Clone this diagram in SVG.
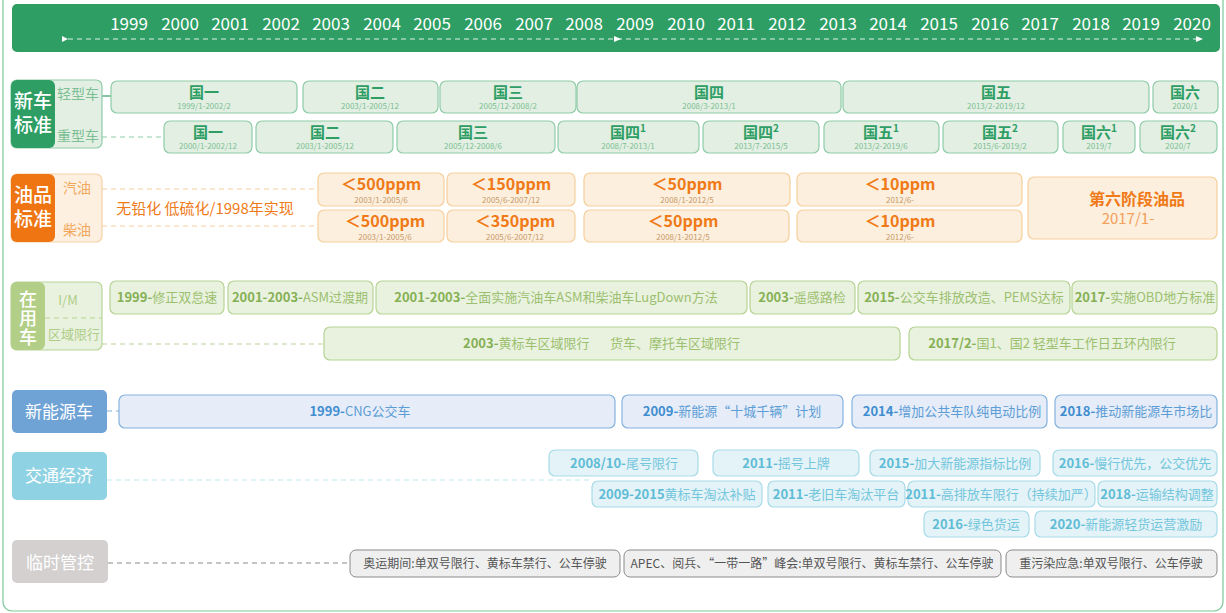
<svg xmlns="http://www.w3.org/2000/svg" width="1226" height="613" viewBox="0 0 1226 613">
<defs>
<style>
text{font-family:"Noto Sans CJK SC","Noto Sans",sans-serif}
.yr{font-size:17px;fill:#fff;text-anchor:middle}
.cat{font-size:19px;fill:#fff;text-anchor:middle;font-weight:500}
.gb{fill:#e2efe2;stroke:#8fcca8;stroke-width:1.2}
.gt{font-size:15px;font-weight:700;fill:#2e9e64;text-anchor:middle}
.gs{font-size:8px;fill:#7cbf94;text-anchor:middle}
.gl{font-size:14px;fill:#7cbf94;text-anchor:middle}
.ob{fill:#fdefdd;stroke:#f6cf9c;stroke-width:1.2}
.ot{font-size:16px;font-weight:700;fill:#ef7a17;text-anchor:middle}
.os{font-size:8px;fill:#c69a6a;text-anchor:middle}
.ol{font-size:14px;fill:#f2a85c;text-anchor:middle}
.ub{fill:#e9f2de;stroke:#b6d494;stroke-width:1.2}
.ut{font-size:13px;fill:#9cc070;text-anchor:middle}
.ut tspan.b,.ut2 tspan.b{font-weight:700;fill:#86b055}
.ut2{font-size:13px;fill:#9cc070}
.nb{fill:#e6edf8;stroke:#84b2df;stroke-width:1.2}
.nt{font-size:13px;fill:#5d9dd6;text-anchor:middle}
.nt tspan.b{font-weight:700;fill:#3f8dd0}
.tb{fill:#e3f3f7;stroke:#a7dbe8;stroke-width:1.2}
.tt{font-size:13px;fill:#74c6dd;text-anchor:middle}
.tt tspan.b{font-weight:700;fill:#5fbcd6}
.lb{fill:#efefef;stroke:#8a8a8a;stroke-width:1}
.lt{font-size:12px;fill:#555;text-anchor:middle}
.dash{fill:none;stroke-width:1.2;stroke-dasharray:5 4}
</style>
</defs>
<rect x="3" y="-10" width="1220" height="621" rx="9" fill="none" stroke="#7cc89b" stroke-width="1.2"/>

<g id="timeline">
<rect x="12" y="4" width="1208" height="48" rx="5" fill="#2e9e64"/>
<text class="yr" x="129" y="30">1999</text>
<text class="yr" x="180" y="30">2000</text>
<text class="yr" x="230" y="30">2001</text>
<text class="yr" x="281" y="30">2002</text>
<text class="yr" x="331" y="30">2003</text>
<text class="yr" x="382" y="30">2004</text>
<text class="yr" x="432" y="30">2005</text>
<text class="yr" x="483" y="30">2006</text>
<text class="yr" x="534" y="30">2007</text>
<text class="yr" x="584" y="30">2008</text>
<text class="yr" x="635" y="30">2009</text>
<text class="yr" x="686" y="30">2010</text>
<text class="yr" x="736" y="30">2011</text>
<text class="yr" x="787" y="30">2012</text>
<text class="yr" x="838" y="30">2013</text>
<text class="yr" x="888" y="30">2014</text>
<text class="yr" x="939" y="30">2015</text>
<text class="yr" x="990" y="30">2016</text>
<text class="yr" x="1040" y="30">2017</text>
<text class="yr" x="1091" y="30">2018</text>
<text class="yr" x="1141" y="30">2019</text>
<text class="yr" x="1192" y="30">2020</text>
<line x1="68" y1="39" x2="1198" y2="39" stroke="#fff" stroke-opacity="0.85" stroke-width="1" stroke-dasharray="5 4"/>
<polygon points="62,36 68,39 62,42" fill="#fff"/>
<polygon points="614,36 621,39 614,42" fill="#fff"/>
<polygon points="1196,36 1203,39 1196,42" fill="#fff"/>
</g>

<g id="connectors">
<line x1="102" y1="96" x2="111" y2="96" stroke="#2e9e64" stroke-width="1.2"/>
<line class="dash" x1="102" y1="137" x2="164" y2="137" stroke="#8fcca8"/>
<line class="dash" x1="102" y1="189" x2="318" y2="189" stroke="#f6cf9c"/>
<line class="dash" x1="102" y1="226" x2="318" y2="226" stroke="#f6cf9c"/>
<line class="dash" x1="102" y1="344" x2="324" y2="344" stroke="#b6d494"/>
<line class="dash" x1="107" y1="411" x2="119" y2="411" stroke="#84b2df"/>
<line class="dash" x1="107" y1="480" x2="592" y2="480" stroke="#bde6ef" stroke-width="2"/>
<line class="dash" x1="108" y1="563" x2="350" y2="563" stroke="#8a8a8a" stroke-width="1"/>
</g>

<g id="cat-newcar">
<rect x="11" y="80" width="91" height="68" rx="6" fill="#e2efe2" stroke="#8fcca8" stroke-width="1.2"/>
<rect x="11" y="80" width="44" height="68" rx="6" fill="#2e9e64"/>
<text class="cat" x="33" y="108">新车<tspan x="33" dy="24">标准</tspan></text>
<text class="gl" x="78" y="99">轻型车</text>
<text class="gl" x="78" y="141">重型车</text>
</g>

<g id="light-1"><rect class="gb" x="111" y="81" width="186" height="32" rx="6"/><text class="gt" x="204" y="98">国一</text><text class="gs" x="204" y="109">1999/1-2002/2</text></g>
<g id="light-2"><rect class="gb" x="303" y="81" width="135" height="32" rx="6"/><text class="gt" x="370" y="98">国二</text><text class="gs" x="370" y="109">2003/1-2005/12</text></g>
<g id="light-3"><rect class="gb" x="440" y="81" width="136" height="32" rx="6"/><text class="gt" x="508" y="98">国三</text><text class="gs" x="508" y="109">2005/12-2008/2</text></g>
<g id="light-4"><rect class="gb" x="577" y="81" width="264" height="32" rx="6"/><text class="gt" x="709" y="98">国四</text><text class="gs" x="709" y="109">2008/3-2013/1</text></g>
<g id="light-5"><rect class="gb" x="843" y="81" width="306" height="32" rx="6"/><text class="gt" x="996" y="98">国五</text><text class="gs" x="996" y="109">2013/2-2019/12</text></g>
<g id="light-6"><rect class="gb" x="1153" y="81" width="65" height="32" rx="6"/><text class="gt" x="1185" y="98">国六</text><text class="gs" x="1185" y="109">2020/1</text></g>

<g id="heavy-1"><rect class="gb" x="164" y="121" width="88" height="32" rx="6"/><text class="gt" x="208" y="138">国一</text><text class="gs" x="208" y="149">2000/1-2002/12</text></g>
<g id="heavy-2"><rect class="gb" x="256" y="121" width="137" height="32" rx="6"/><text class="gt" x="325" y="138">国二</text><text class="gs" x="325" y="149">2003/1-2005/12</text></g>
<g id="heavy-3"><rect class="gb" x="397" y="121" width="158" height="32" rx="6"/><text class="gt" x="473" y="138">国三</text><text class="gs" x="473" y="149">2005/12-2008/6</text></g>
<g id="heavy-4a"><rect class="gb" x="558" y="121" width="141" height="32" rx="6"/><text class="gt" x="628" y="138">国四<tspan font-size="10" dy="-6">1</tspan></text><text class="gs" x="628" y="149">2008/7-2013/1</text></g>
<g id="heavy-4b"><rect class="gb" x="703" y="121" width="116" height="32" rx="6"/><text class="gt" x="761" y="138">国四<tspan font-size="10" dy="-6">2</tspan></text><text class="gs" x="761" y="149">2013/7-2015/5</text></g>
<g id="heavy-5a"><rect class="gb" x="824" y="121" width="115" height="32" rx="6"/><text class="gt" x="881" y="138">国五<tspan font-size="10" dy="-6">1</tspan></text><text class="gs" x="881" y="149">2013/2-2019/6</text></g>
<g id="heavy-5b"><rect class="gb" x="943" y="121" width="115" height="32" rx="6"/><text class="gt" x="1000" y="138">国五<tspan font-size="10" dy="-6">2</tspan></text><text class="gs" x="1000" y="149">2015/6-2019/2</text></g>
<g id="heavy-6a"><rect class="gb" x="1063" y="121" width="72" height="32" rx="6"/><text class="gt" x="1099" y="138">国六<tspan font-size="10" dy="-6">1</tspan></text><text class="gs" x="1099" y="149">2019/7</text></g>
<g id="heavy-6b"><rect class="gb" x="1140" y="121" width="77" height="32" rx="6"/><text class="gt" x="1178" y="138">国六<tspan font-size="10" dy="-6">2</tspan></text><text class="gs" x="1178" y="149">2020/7</text></g>

<g id="cat-oil">
<rect x="11" y="174" width="91" height="68" rx="6" fill="#fdf0e1" stroke="#f6d2a6" stroke-width="1.2"/>
<rect x="11" y="174" width="44" height="68" rx="6" fill="#ee7511"/>
<text class="cat" x="33" y="202">油品<tspan x="33" dy="24">标准</tspan></text>
<text class="ol" x="77" y="193">汽油</text>
<text class="ol" x="77" y="235">柴油</text>
</g>
<g id="oil-note"><text x="205" y="214" font-size="15" fill="#ef7a17" text-anchor="middle">无铅化 低硫化/1998年实现</text></g>

<g id="gas-1"><rect class="ob" x="318" y="173" width="126" height="33" rx="6"/><text class="ot" x="381" y="190">＜500ppm</text><text class="os" x="381" y="203">2003/1-2005/6</text></g>
<g id="gas-2"><rect class="ob" x="447" y="173" width="128" height="33" rx="6"/><text class="ot" x="511" y="190">＜150ppm</text><text class="os" x="511" y="203">2005/6-2007/12</text></g>
<g id="gas-3"><rect class="ob" x="584" y="173" width="206" height="33" rx="6"/><text class="ot" x="687" y="190">＜50ppm</text><text class="os" x="687" y="203">2008/1-2012/5</text></g>
<g id="gas-4"><rect class="ob" x="797" y="173" width="225" height="33" rx="6"/><text class="ot" x="900" y="190">＜10ppm</text><text class="os" x="900" y="203">2012/6-</text></g>
<g id="dsl-1"><rect class="ob" x="318" y="210" width="126" height="32" rx="6"/><text class="ot" x="385" y="227">＜500ppm</text><text class="os" x="385" y="240">2003/1-2005/6</text></g>
<g id="dsl-2"><rect class="ob" x="447" y="210" width="128" height="32" rx="6"/><text class="ot" x="515" y="227">＜350ppm</text><text class="os" x="515" y="240">2005/6-2007/12</text></g>
<g id="dsl-3"><rect class="ob" x="584" y="210" width="205" height="32" rx="6"/><text class="ot" x="683" y="227">＜50ppm</text><text class="os" x="683" y="240">2008/1-2012/5</text></g>
<g id="dsl-4"><rect class="ob" x="797" y="210" width="225" height="32" rx="6"/><text class="ot" x="900" y="227">＜10ppm</text><text class="os" x="900" y="240">2012/6-</text></g>
<g id="oil-6"><rect class="ob" x="1028" y="177" width="189" height="62" rx="6"/><text x="1137" y="205" font-size="16" font-weight="700" fill="#ef7a17" text-anchor="middle">第六阶段油品<tspan x="1128" dy="19" font-size="15" font-weight="400" fill="#f2a05a">2017/1-</tspan></text></g>

<g id="cat-inuse">
<rect x="11" y="282" width="91" height="68" rx="6" fill="#e9f2de" stroke="#b8d59a" stroke-width="1.2"/>
<rect x="11" y="282" width="34" height="68" rx="6" fill="#b3cf87"/>
<text x="28" y="290" font-size="18" font-weight="500" fill="#fff" writing-mode="vertical-rl" letter-spacing="1">在用车</text>
<line x1="45" y1="318" x2="102" y2="318" stroke="#b6d494" stroke-width="1.2" stroke-dasharray="5 4"/>
<text x="68" y="305" font-size="13" fill="#aecd88" text-anchor="middle">I/M</text>
<text x="74" y="339" font-size="13" fill="#aecd88" text-anchor="middle">区域限行</text>
</g>

<g id="im-1"><rect class="ub" x="110" y="281" width="114" height="33" rx="6"/><text class="ut" x="167" y="302"><tspan class="b">1999-</tspan>修正双怠速</text></g>
<g id="im-2"><rect class="ub" x="228" y="281" width="145" height="33" rx="6"/><text class="ut" x="300" y="302"><tspan class="b">2001-2003-</tspan>ASM过渡期</text></g>
<g id="im-3"><rect class="ub" x="376" y="281" width="371" height="33" rx="6"/><text class="ut" x="556" y="302"><tspan class="b">2001-2003-</tspan>全面实施汽油车ASM和柴油车LugDown方法</text></g>
<g id="im-4"><rect class="ub" x="750" y="281" width="105" height="33" rx="6"/><text class="ut" x="802" y="302"><tspan class="b">2003-</tspan>遥感路检</text></g>
<g id="im-5"><rect class="ub" x="858" y="281" width="212" height="33" rx="6"/><text class="ut" x="964" y="302"><tspan class="b">2015-</tspan>公交车排放改造、PEMS达标</text></g>
<g id="im-6"><rect class="ub" x="1072" y="281" width="145" height="33" rx="6"/><text class="ut" x="1145" y="302"><tspan class="b">2017-</tspan>实施OBD地方标准</text></g>
<g id="zone-1"><rect class="ub" x="324" y="327" width="576" height="33" rx="6"/><text class="ut2" x="463" y="348"><tspan class="b">2003-</tspan>黄标车区域限行</text><text class="ut2" x="610" y="348">货车、摩托车区域限行</text></g>
<g id="zone-2"><rect class="ub" x="909" y="327" width="308" height="33" rx="6"/><text class="ut" x="1052" y="348"><tspan class="b">2017/2-</tspan>国1、国2 轻型车工作日五环内限行</text></g>

<g id="cat-nev">
<rect x="12" y="390" width="95" height="43" rx="5" fill="#6fa3d6"/>
<text x="59" y="418" font-size="17" fill="#fff" text-anchor="middle">新能源车</text>
</g>
<g id="nev-1"><rect class="nb" x="119" y="395" width="496" height="33" rx="6"/><text class="nt" x="360" y="416"><tspan class="b">1999-</tspan>CNG公交车</text></g>
<g id="nev-2"><rect class="nb" x="622" y="395" width="221" height="33" rx="6"/><text class="nt" x="732" y="416"><tspan class="b">2009-</tspan>新能源“十城千辆”计划</text></g>
<g id="nev-3"><rect class="nb" x="852" y="395" width="195" height="33" rx="6"/><text class="nt" x="952" y="416"><tspan class="b">2014-</tspan>增加公共车队纯电动比例</text></g>
<g id="nev-4"><rect class="nb" x="1055" y="395" width="162" height="33" rx="6"/><text class="nt" x="1136" y="416"><tspan class="b">2018-</tspan>推动新能源车市场比</text></g>

<g id="cat-traffic">
<rect x="12" y="452" width="95" height="48" rx="5" fill="#8fd2e3"/>
<text x="59" y="482" font-size="17" fill="#fff" text-anchor="middle">交通经济</text>
</g>
<g id="tr-1"><rect class="tb" x="549" y="450" width="149" height="26" rx="6"/><text class="tt" x="624" y="468"><tspan class="b">2008/10-</tspan>尾号限行</text></g>
<g id="tr-2"><rect class="tb" x="713" y="450" width="146" height="26" rx="6"/><text class="tt" x="786" y="468"><tspan class="b">2011-</tspan>摇号上牌</text></g>
<g id="tr-3"><rect class="tb" x="870" y="450" width="170" height="26" rx="6"/><text class="tt" x="955" y="468"><tspan class="b">2015-</tspan>加大新能源指标比例</text></g>
<g id="tr-4"><rect class="tb" x="1053" y="450" width="164" height="26" rx="6"/><text class="tt" x="1135" y="468"><tspan class="b">2016-</tspan>慢行优先，公交优先</text></g>
<g id="tr-5"><rect class="tb" x="592" y="481" width="170" height="26" rx="6"/><text class="tt" x="677" y="499"><tspan class="b">2009-2015</tspan>黄标车淘汰补贴</text></g>
<g id="tr-6"><rect class="tb" x="768" y="481" width="137" height="26" rx="6"/><text class="tt" x="836" y="499"><tspan class="b">2011-</tspan>老旧车淘汰平台</text></g>
<g id="tr-7"><rect class="tb" x="908" y="481" width="187" height="26" rx="6"/><text class="tt" x="1001" y="499"><tspan class="b">2011-</tspan>高排放车限行（持续加严）</text></g>
<g id="tr-8"><rect class="tb" x="1098" y="481" width="119" height="26" rx="6"/><text class="tt" x="1157" y="499"><tspan class="b">2018-</tspan>运输结构调整</text></g>
<g id="tr-9"><rect class="tb" x="924" y="511" width="105" height="26" rx="6"/><text class="tt" x="976" y="529"><tspan class="b">2016-</tspan>绿色货运</text></g>
<g id="tr-10"><rect class="tb" x="1035" y="511" width="182" height="26" rx="6"/><text class="tt" x="1126" y="529"><tspan class="b">2020-</tspan>新能源轻货运营激励</text></g>

<g id="cat-temp">
<rect x="12" y="540" width="96" height="43" rx="5" fill="#d3d0cf"/>
<text x="60" y="569" font-size="17" fill="#fff" text-anchor="middle">临时管控</text>
</g>
<g id="tmp-1"><rect class="lb" x="350" y="550" width="270" height="27" rx="6"/><text class="lt" x="485" y="568">奥运期间:单双号限行、黄标车禁行、公车停驶</text></g>
<g id="tmp-2"><rect class="lb" x="624" y="550" width="377" height="27" rx="6"/><text class="lt" x="812" y="568">APEC、阅兵、“一带一路”峰会:单双号限行、黄标车禁行、公车停驶</text></g>
<g id="tmp-3"><rect class="lb" x="1006" y="550" width="211" height="27" rx="6"/><text class="lt" x="1111" y="568">重污染应急:单双号限行、公车停驶</text></g>
</svg>
